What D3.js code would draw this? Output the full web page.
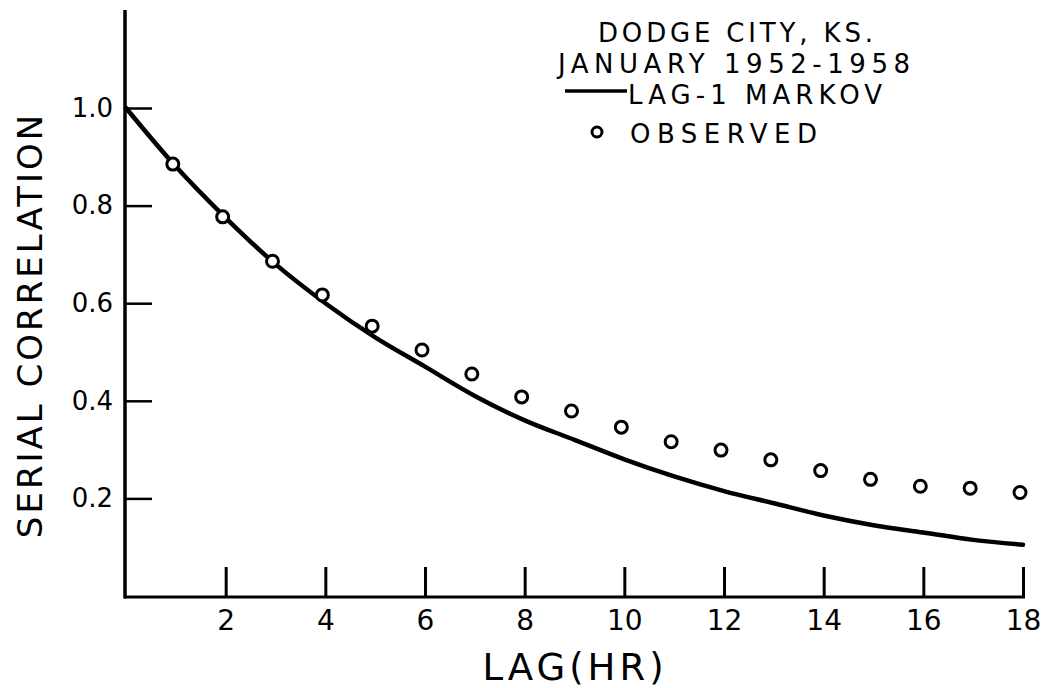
<!DOCTYPE html>
<html>
<head>
<meta charset="utf-8">
<script src="https://cdn.jsdelivr.net/npm/d3@7"></script>
<style>
  html, body { margin: 0; padding: 0; background: #fff; }
  svg { display: block; font-family: "DejaVu Sans", sans-serif; }
</style>
</head>
<body>
<svg id="chart" width="1049" height="688"></svg>
<script>
// ---- data ----
const lags = [1, 2, 3, 4, 5, 6, 7, 8, 9, 10, 11, 12, 13, 14, 15, 16, 17, 18];
const observed = [0.885, 0.777, 0.686, 0.617, 0.553, 0.504, 0.455, 0.408, 0.379, 0.346, 0.316, 0.299, 0.279, 0.257, 0.239, 0.225, 0.221, 0.212];
const markovLags = [0, 1, 2, 3, 4, 5, 6, 7, 8, 9, 10, 11, 12, 13, 14, 15, 16, 17, 18];
const markov = [1.0, 0.88, 0.775, 0.68, 0.60, 0.53, 0.47, 0.41, 0.36, 0.32, 0.28, 0.245, 0.215, 0.19, 0.165, 0.145, 0.13, 0.115, 0.105];
const xTicks = [2, 4, 6, 8, 10, 12, 14, 16, 18];
const yTicks = [0.2, 0.4, 0.6, 0.8, 1.0];
const titleLines = ["DODGE CITY, KS.", "JANUARY 1952-1958"];
const legendLabels = ["LAG-1 MARKOV", "OBSERVED"];
const xTitle = "LAG(HR)";
const yTitle = "SERIAL CORRELATION";

// ---- layout ----
const svg = d3.select("#chart");
const x = d3.scaleLinear().domain([0, 18]).range([126, 1023]);
const y = d3.scaleLinear().domain([0, 1]).range([596, 108]);
const axisY0 = 597;

// axes
const gx = svg.append("g").attr("transform", `translate(0,${axisY0})`)
  .call(d3.axisBottom(x).tickValues(xTicks).tickSize(-30).tickPadding(13).tickFormat(d3.format("d")));
gx.select(".domain").remove();
gx.selectAll(".tick line").attr("stroke", "#000").attr("stroke-width", 3);
gx.selectAll(".tick text").attr("font-size", 28).attr("fill", "#000")
  .attr("font-family", "DejaVu Sans, sans-serif");

const gy = svg.append("g").attr("transform", `translate(126,0)`)
  .call(d3.axisLeft(y).tickValues(yTicks).tickSize(-26).tickPadding(13).tickFormat(d3.format(".1f")));
gy.select(".domain").remove();
gy.selectAll(".tick line").attr("stroke", "#000").attr("stroke-width", 2.5);
gy.selectAll(".tick text").attr("font-size", 26).attr("fill", "#000")
  .attr("font-family", "DejaVu Sans, sans-serif");

// axis lines
svg.append("line").attr("x1", 125).attr("x2", 125).attr("y1", 10).attr("y2", axisY0 + 1.5)
  .attr("stroke", "#000").attr("stroke-width", 3.5);
svg.append("line").attr("x1", 124).attr("x2", 1025).attr("y1", axisY0).attr("y2", axisY0)
  .attr("stroke", "#000").attr("stroke-width", 3);

// markov curve
const line = d3.line().x((d, i) => x(markovLags[i])).y(d => y(d)).curve(d3.curveMonotoneX);
svg.append("path").datum(markov).attr("d", line)
  .attr("fill", "none").attr("stroke", "#000").attr("stroke-width", 4.5).attr("stroke-linecap", "round");

// observed points
svg.append("g").selectAll("circle").data(observed).join("circle")
  .attr("cx", (d, i) => x(lags[i]) - 3)
  .attr("cy", d => y(d))
  .attr("r", 6)
  .attr("fill", "#fff").attr("stroke", "#000").attr("stroke-width", 3);

// axis titles
svg.append("text").attr("x", 575).attr("y", 680).attr("text-anchor", "middle")
  .attr("font-size", 37).attr("letter-spacing", 4).attr("fill", "#000").text(xTitle);
svg.append("text").attr("transform", "translate(42,325) rotate(-90)").attr("text-anchor", "middle")
  .attr("font-size", 34).attr("letter-spacing", 3).attr("fill", "#000").text(yTitle);

// title block / legend
const titleSpec = [{x: 598, y: 42, w: 275}, {x: 558, y: 73, w: 352}];
titleLines.forEach((t, i) => {
  svg.append("text").attr("x", titleSpec[i].x).attr("y", titleSpec[i].y)
    .attr("font-size", 26).attr("fill", "#000")
    .attr("textLength", titleSpec[i].w).attr("lengthAdjust", "spacing").text(t);
});
svg.append("line").attr("x1", 565).attr("x2", 627).attr("y1", 91).attr("y2", 91)
  .attr("stroke", "#000").attr("stroke-width", 3.5);
svg.append("text").attr("x", 628).attr("y", 104).attr("font-size", 26).attr("fill", "#000")
  .attr("textLength", 254).attr("lengthAdjust", "spacing").text(legendLabels[0]);
svg.append("circle").attr("cx", 597).attr("cy", 132).attr("r", 5)
  .attr("fill", "#fff").attr("stroke", "#000").attr("stroke-width", 3);
svg.append("text").attr("x", 630).attr("y", 143).attr("font-size", 26).attr("fill", "#000")
  .attr("textLength", 187).attr("lengthAdjust", "spacing").text(legendLabels[1]);
</script>
</body>
</html>
